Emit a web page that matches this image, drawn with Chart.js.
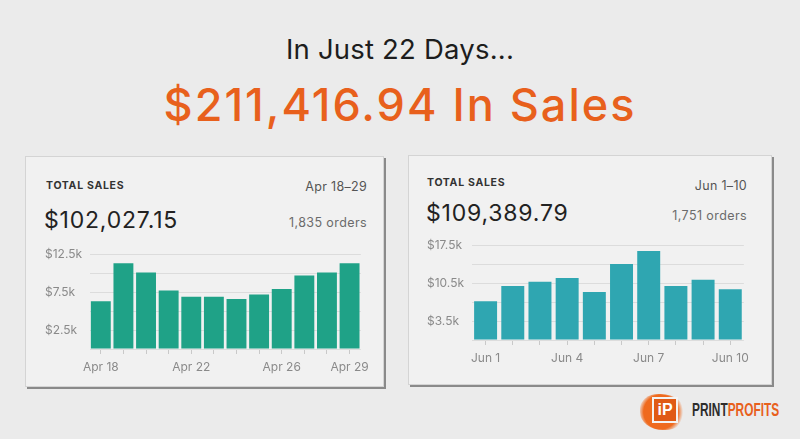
<!DOCTYPE html>
<html>
<head>
<meta charset="utf-8">
<title>Total Sales</title>
<script src="https://cdn.jsdelivr.net/npm/chart.js@4.4.1/dist/chart.umd.min.js"></script>
<style>
  html, body { margin: 0; padding: 0; }
  body {
    width: 800px; height: 439px; position: relative; overflow: hidden;
    background: #ebebeb; font-family: Inter, "Liberation Sans", Arial, sans-serif;
  }
  .abs { position: absolute; white-space: nowrap; }
  .headline { left: 0; width: 800px; text-align: center; }
  .card {
    position: absolute; background: #f1f1f1; border: 1px solid #d4d4d4;
    box-shadow: 2px 2px 0 #8a8a8a; box-sizing: border-box;
  }
  .label { font-size: 10.5px; font-weight: 700; letter-spacing: 0.7px; color: #333; line-height: 14px; }
  .total { font-size: 23px; color: #222; line-height: 26px; letter-spacing: 0.8px; }
  .range { font-size: 12.5px; color: #555; line-height: 16px; text-align: right; letter-spacing: 0.3px; }
  .orders { font-size: 12.5px; color: #6b6b6b; line-height: 16px; text-align: right; letter-spacing: 0.4px; }
  canvas { position: absolute; }
  .logo-text {
    font-family: "Liberation Sans", Arial, sans-serif; font-weight: 700; font-size: 18px;
    transform: scaleX(0.66); transform-origin: 0 50%;
  }
</style>
</head>
<body>

<div class="abs headline" style="top:33px; font-size:27.5px; color:#1d1d1d; line-height:32px; letter-spacing:0.2px;">In Just 22 Days...</div>
<div class="abs headline" style="top:79px; font-size:45px; color:#e8601c; line-height:52px; font-weight:500; letter-spacing:2px;">$211,416.94 In Sales</div>

<div class="card" style="left:25px; top:156px; width:359px; height:231px;"></div>
<div class="card" style="left:408px; top:155px; width:364px; height:230px;"></div>

<div class="abs label" style="left:46px; top:179px;">TOTAL SALES</div>
<div class="abs total" style="left:44px; top:207px;">$102,027.15</div>
<div class="abs range" style="right:433px; top:179px;">Apr 18–29</div>
<div class="abs orders" style="right:433px; top:215px;">1,835 orders</div>

<div class="abs label" style="left:427px; top:176px;">TOTAL SALES</div>
<div class="abs total" style="left:426px; top:200px;">$109,389.79</div>
<div class="abs range" style="right:53px; top:178px;">Jun 1–10</div>
<div class="abs orders" style="right:53px; top:208px;">1,751 orders</div>

<canvas id="aprChart" style="left:40px; top:244px;" width="335" height="135"></canvas>
<canvas id="junChart" style="left:420px; top:235px;" width="335" height="135"></canvas>

<!-- logo -->
<div class="abs" style="left:640px; top:390px; width:52px; height:42px;">
  <div class="abs" style="left:0; top:4px; width:46px; height:36px; border-radius:40% 55% 45% 50%; background:radial-gradient(circle at 45% 50%, #ef6a1e 0%, #ef6a1e 55%, rgba(239,106,30,0) 72%);"></div>
  <div class="abs" style="left:12px; top:7px; width:26px; height:26px; border:2px solid #f3f3f3; box-sizing:border-box; background:#e05a15; color:#fff; font-family:'Liberation Sans', sans-serif; font-weight:700; font-size:16px; line-height:22px; text-align:center;">iP</div>
</div>
<div class="abs logo-text" style="left:692px; top:399px; line-height:22px;"><span style="color:#2d2d2d;">PRINT</span><span style="color:#e8601c;">PROFITS</span></div>

<script>
'use strict';

// Apr 18 - 29 daily sales
var aprDays = ['Apr 18', 'Apr 19', 'Apr 20', 'Apr 21', 'Apr 22', 'Apr 23',
               'Apr 24', 'Apr 25', 'Apr 26', 'Apr 27', 'Apr 28', 'Apr 29'];
var aprSales = [6300, 11300, 10100, 7700, 6900, 6900, 6600, 7200, 7900, 9700, 10100, 11300];
var aprShownDays = ['Apr 18', 'Apr 22', 'Apr 26', 'Apr 29'];
var aprTickLabels = ['$2.5k', '$7.5k', '$12.5k'];
var aprTickValues = [2500, 7500, 12500];

// Jun 1 - 10 daily sales
var junDays = ['Jun 1', 'Jun 2', 'Jun 3', 'Jun 4', 'Jun 5',
               'Jun 6', 'Jun 7', 'Jun 8', 'Jun 9', 'Jun 10'];
var junSales = [7200, 10000, 10800, 11500, 8900, 14100, 16500, 10000, 11200, 9400];
var junShownDays = ['Jun 1', 'Jun 4', 'Jun 7', 'Jun 10'];
var junTickLabels = ['$3.5k', '$10.5k', '$17.5k'];
var junTickValues = [3500, 10500, 17500];

/**
 * Build a sales bar chart
 *
 * @param {string} canvasId Canvas element ID
 * @param {object} opts Chart settings
 */
function salesChart(canvasId, opts) {
    var ctx = document.getElementById(canvasId).getContext('2d');

    return new Chart(ctx, {
        type: 'bar',
        data: {
            labels: opts.days,
            datasets: [{
                data: opts.sales,
                backgroundColor: opts.color,
                borderWidth: 0,
                barPercentage: opts.barPct,
                categoryPercentage: 1
            }]
        },
        options: {
            responsive: false,
            animation: false,
            layout: { padding: { left: opts.padLeft, top: opts.padTop, right: opts.padRight, bottom: 0 } },
            plugins: { legend: { display: false }, tooltip: { enabled: false } },
            scales: {
                x: {
                    afterFit: function(scale) { scale.height = 30; },
                    border: { display: false },
                    grid: {
                        offset: false,
                        drawOnChartArea: false,
                        drawTicks: true,
                        tickLength: 5,
                        color: '#c9c9c9'
                    },
                    ticks: {
                        autoSkip: false,
                        maxRotation: 0,
                        padding: 6,
                        color: '#8a8a8a',
                        font: { family: 'Inter, "Liberation Sans", Arial', size: 12 },
                        callback: function(value) {
                            var day = opts.days[value];
                            return opts.shown.indexOf(day) >= 0 ? day : '';
                        }
                    }
                },
                y: {
                    min: 0,
                    max: opts.max,
                    afterFit: function(scale) { scale.width = opts.axisWidth; },
                    border: { display: false },
                    grid: { color: '#dcdcdc', drawTicks: false },
                    ticks: {
                        stepSize: opts.step,
                        crossAlign: 'far',
                        color: '#8a8a8a',
                        font: { family: 'Inter, "Liberation Sans", Arial', size: 12 },
                        callback: function(value) {
                            var i = opts.tickValues.indexOf(value);
                            return i >= 0 ? opts.tickLabels[i] : '';
                        }
                    }
                }
            }
        }
    });
}

salesChart('aprChart', {
    days: aprDays,
    sales: aprSales,
    shown: aprShownDays,
    tickLabels: aprTickLabels,
    tickValues: aprTickValues,
    max: 12500,
    step: 2500,
    color: '#1fa287',
    barPct: 0.88,
    padLeft: 5,
    padTop: 10,
    padRight: 7,
    axisWidth: 44.5
});

salesChart('junChart', {
    days: junDays,
    sales: junSales,
    shown: junShownDays,
    tickLabels: junTickLabels,
    tickValues: junTickValues,
    max: 17500,
    step: 3500,
    color: '#2fa6b1',
    barPct: 0.845,
    padLeft: 7,
    padTop: 10.7,
    padRight: 6,
    axisWidth: 45
});
</script>
</body>
</html>
